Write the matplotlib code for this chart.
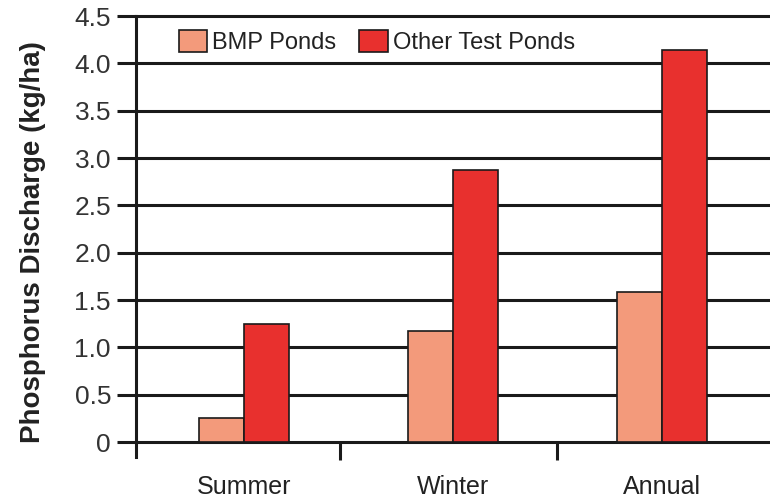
import matplotlib
matplotlib.use('Agg')
import matplotlib.pyplot as plt
import numpy as np

plt.rcParams['font.family'] = ['Liberation Sans', 'DejaVu Sans']

# --- datos ---
categories = ['Summer', 'Winter', 'Annual']
bmp_ponds = [0.25, 1.17, 1.58]
other_ponds = [1.25, 2.87, 4.14]
y_ticks = [0, 0.5, 1.0, 1.5, 2.0, 2.5, 3.0, 3.5, 4.0, 4.5]
y_tick_labels = ['0', '0.5', '1.0', '1.5', '2.0', '2.5', '3.0', '3.5', '4.0', '4.5']

BMP_COLOR = '#F39A7B'
OTHER_COLOR = '#E8302E'
LINE_COLOR = '#1a1a1a'

fig = plt.figure(figsize=(7.7, 4.99), dpi=100)
ax = fig.add_axes([136 / 770, 1 - 442 / 499, 1 - 136 / 770, (442 - 16) / 499])

x = np.arange(len(categories))
w = 0.216
ax.bar(x - w / 2, bmp_ponds, w, color=BMP_COLOR, edgecolor=LINE_COLOR,
       linewidth=1.2, label='BMP Ponds', zorder=3)
ax.bar(x + w / 2, other_ponds, w, color=OTHER_COLOR, edgecolor=LINE_COLOR,
       linewidth=1.2, label='Other Test Ponds', zorder=3)

ax.set_xlim(-0.52, 2.52)
ax.set_ylim(0, 4.5)

# lineas horizontales
for yv in y_ticks:
    ax.axhline(yv, color=LINE_COLOR, linewidth=2.2, zorder=1, clip_on=False)

ax.set_yticks(y_ticks)
ax.set_yticklabels(y_tick_labels, fontsize=19, color='#333333')
ax.tick_params(axis='y', length=14, width=2.2, color=LINE_COLOR, pad=4)

# separadores entre categorias
ax.set_xticks([0.46, 1.5])
ax.set_xticklabels(['', ''])
ax.tick_params(axis='x', which='major', length=13, width=2.2, color=LINE_COLOR)
ax.set_xticks(x, minor=True)
ax.set_xticklabels(categories, minor=True, fontsize=18, color='#222222')
ax.tick_params(axis='x', which='minor', length=0, pad=24)

for s in ['top', 'right', 'bottom']:
    ax.spines[s].set_visible(False)
ax.spines['left'].set_linewidth(2.2)
ax.spines['left'].set_color(LINE_COLOR)
ax.spines['left'].set_bounds(-0.16, 4.5)

ax.set_ylabel('Phosphorus Discharge (kg/ha)', fontsize=20, fontweight='bold',
              color='#222222')
ax.yaxis.set_label_coords(-0.142, 0.47)

leg = ax.legend(loc='upper left', bbox_to_anchor=(0.045, 1.0), ncol=2, frameon=False,
                fontsize=17, handlelength=1.2, handleheight=1.02,
                handletextpad=0.2, columnspacing=1.0, borderaxespad=0.2)
for t in leg.get_texts():
    t.set_color('#222222')

fig.savefig('out.png', dpi=100)
